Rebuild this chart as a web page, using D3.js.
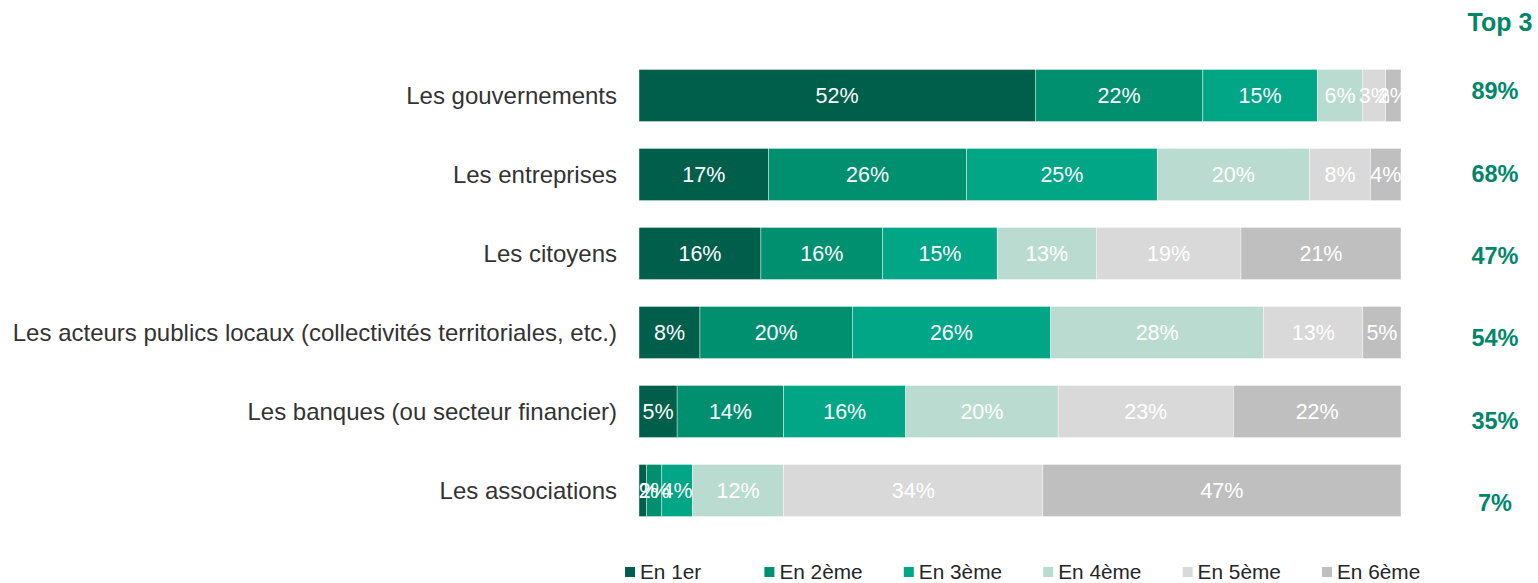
<!DOCTYPE html>
<html><head><meta charset="utf-8">
<script src="https://cdn.jsdelivr.net/npm/d3@7"></script>
<style>body{margin:0;background:#fff;}svg{display:block;font-family:"Liberation Sans",Arial,sans-serif;}</style>
</head><body><svg id="c" width="1538" height="583"></svg>
<script>
const categories = ["Les gouvernements","Les entreprises","Les citoyens","Les acteurs publics locaux (collectivités territoriales, etc.)","Les banques (ou secteur financier)","Les associations"];
const seriesNames = ["En 1er","En 2ème","En 3ème","En 4ème","En 5ème","En 6ème"];
const s1 = [52,17,16,8,5,1];
const s2 = [22,26,16,20,14,2];
const s3 = [15,25,15,26,16,4];
const s4 = [6,20,13,28,20,12];
const s5 = [3,8,19,13,23,34];
const s6 = [2,4,21,5,22,47];
const top3 = ["89%","68%","47%","54%","35%","7%"];
const colors = ["#005F4B","#00906F","#00A685","#BADCD0","#D9D9D9","#BFBFBF"];

const series = [s1,s2,s3,s4,s5,s6];
const svg = d3.select("#c");
const x = d3.scaleLinear().domain([0,100]).range([639,1401]);
const y = d3.scaleBand().domain(categories).range([56,530]).paddingInner(0.34).paddingOuter(0.17);

const rows = categories.map((c,i)=>{let acc=0;return series.map((s,k)=>{const o={cat:c,k,v:s[i],x0:acc};acc+=s[i];return o;});});

const g = svg.append("g");
rows.forEach(r=>{
  r.forEach(d=>{
    g.append("rect").attr("x",x(d.x0)).attr("y",y(d.cat)).attr("width",x(d.x0+d.v)-x(d.x0)).attr("height",y.bandwidth())
      .attr("fill",colors[d.k]).attr("stroke","#fff").attr("stroke-width",0.4);
  });
  r.forEach(d=>{
    g.append("text").attr("x",(x(d.x0)+x(d.x0+d.v))/2).attr("y",y(d.cat)+y.bandwidth()/2).attr("dy","0.35em")
      .attr("text-anchor","middle").attr("fill","#fff").attr("font-size",21.5).text(d.v+"%");
  });
});

categories.forEach(c=>{
  svg.append("text").attr("x",617).attr("y",y(c)+y.bandwidth()/2).attr("dy","0.35em").attr("text-anchor","end")
    .attr("fill","#333333").attr("font-size",24).text(c);
});

svg.append("text").attr("x",1500).attr("y",31).attr("text-anchor","middle").attr("fill","#00876A").attr("font-weight","bold").attr("font-size",25).text("Top 3");
const ty = d3.scaleLinear().domain([0,5]).range([91,503]);
top3.forEach((t,i)=>{
  svg.append("text").attr("x",1495).attr("y",ty(i)).attr("dy","0.35em").attr("text-anchor","middle").attr("fill","#00876A").attr("font-weight","bold").attr("font-size",23.5).text(t);
});

const lx = d3.scaleLinear().domain([0,5]).range([625,1322]);
seriesNames.forEach((n,i)=>{
  const gx = lx(i);
  svg.append("rect").attr("x",gx).attr("y",567).attr("width",10).attr("height",10).attr("fill",colors[i]);
  svg.append("text").attr("x",gx+15).attr("y",572).attr("dy","0.35em").attr("fill","#262626").attr("font-size",20.8).text(n);
});
</script></body></html>
